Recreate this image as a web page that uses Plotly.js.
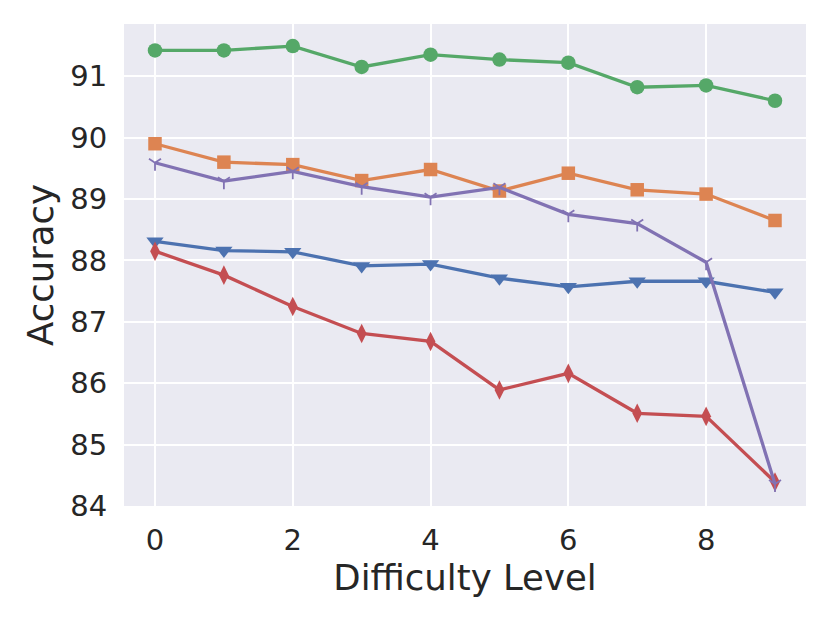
<!DOCTYPE html>
<html>
<head>
<meta charset="utf-8">
<script src="https://cdn.plot.ly/plotly-3.0.1.min.js"></script>
<style>html,body{margin:0;padding:0;background:#fff;}#chart{width:830px;height:623px;}</style>
</head>
<body>
<div id="chart"></div>
<script>
const levels = [0, 1, 2, 3, 4, 5, 6, 7, 8, 9];
const blueSeries   = [88.31, 88.16, 88.14, 87.91, 87.94, 87.71, 87.57, 87.66, 87.66, 87.48];
const orangeSeries = [89.90, 89.60, 89.56, 89.30, 89.48, 89.13, 89.42, 89.15, 89.08, 88.65];
const greenSeries  = [91.42, 91.42, 91.49, 91.15, 91.35, 91.27, 91.22, 90.82, 90.85, 90.60];
const redSeries    = [88.15, 87.76, 87.25, 86.81, 86.68, 85.89, 86.16, 85.51, 85.46, 84.39];
const purpleSeries = [89.59, 89.29, 89.45, 89.20, 89.03, 89.19, 88.75, 88.60, 87.97, 84.36];
const xTicks = [0, 2, 4, 6, 8];
const yTicks = [84, 85, 86, 87, 88, 89, 90, 91];

function tr(y, color, symbol, size, lineOnly) {
  return {
    x: levels, y: y, type: 'scatter', mode: 'lines+markers',
    line: {color: color, width: 3.3},
    marker: lineOnly
      ? {symbol: symbol, size: size, color: color, line: {color: color, width: 1.8}}
      : {symbol: symbol, size: size, color: color, line: {width: 0}},
    showlegend: false, hoverinfo: 'skip'
  };
}
const data = [
  tr(blueSeries, '#4C72B0', 'triangle-down', 15),
  tr(orangeSeries, '#DD8452', 'square', 13.5),
  tr(greenSeries, '#55A868', 'circle', 14.5),
  tr(redSeries, '#C44E52', 'diamond-tall', 14),
  tr(purpleSeries, '#8172B3', 'y-down', 10, true)
];
const font = {family: 'DejaVu Sans, sans-serif', color: '#262626'};
const layout = {
  width: 830, height: 623,
  margin: {l: 124, r: 24, t: 24, b: 117},
  paper_bgcolor: '#ffffff', plot_bgcolor: '#EAEAF2',
  font: font,
  xaxis: {
    range: [-0.45, 9.45], tickvals: xTicks, ticktext: xTicks.map(String),
    showgrid: true, gridcolor: '#ffffff', gridwidth: 2, zeroline: false, showline: false,
    ticks: 'outside', ticklen: 8, tickcolor: 'rgba(0,0,0,0)',
    tickfont: {family: font.family, size: 29, color: '#262626'},
    title: {text: 'Difficulty Level', font: {family: font.family, size: 35.5, color: '#262626'}, standoff: 8}
  },
  yaxis: {
    range: [84.0, 91.85], tickvals: yTicks, ticktext: yTicks.map(String),
    showgrid: true, gridcolor: '#ffffff', gridwidth: 2, zeroline: false, showline: false,
    ticks: 'outside', ticklen: 10, tickcolor: 'rgba(0,0,0,0)',
    tickfont: {family: font.family, size: 29, color: '#262626'},
    title: {text: 'Accuracy', font: {family: font.family, size: 35.5, color: '#262626'}, standoff: 5}
  }
};
Plotly.newPlot('chart', data, layout, {displayModeBar: false, staticPlot: true});
</script>
</body>
</html>
